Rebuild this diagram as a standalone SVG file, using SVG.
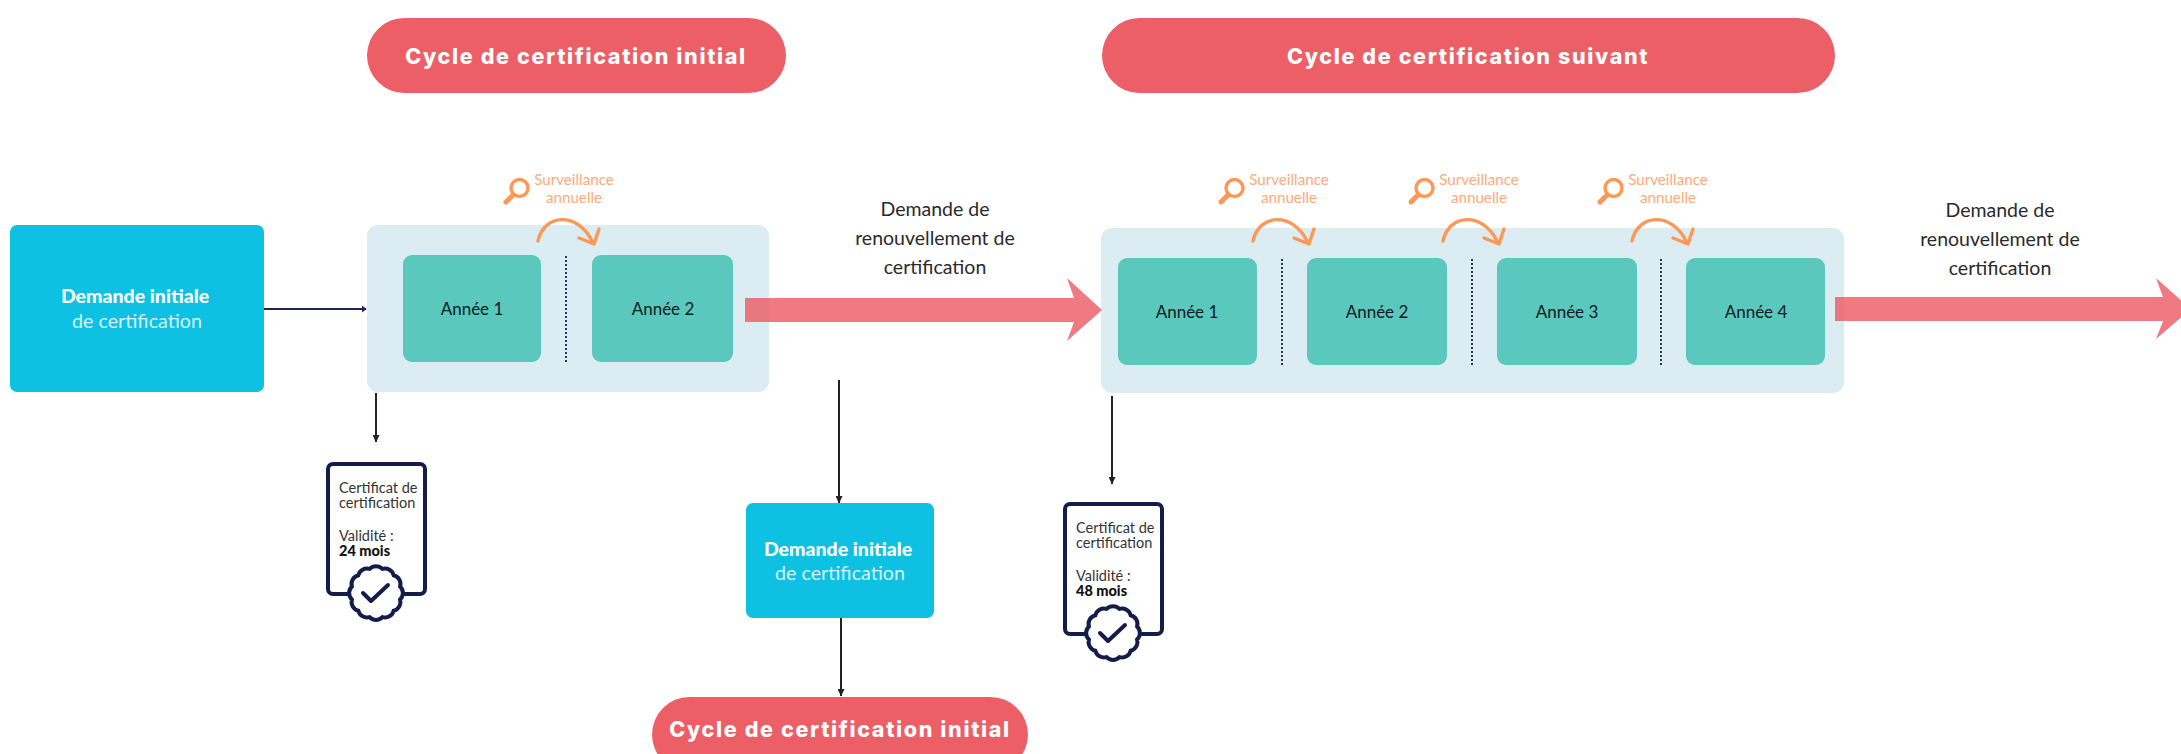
<svg xmlns="http://www.w3.org/2000/svg" xmlns:xlink="http://www.w3.org/1999/xlink" width="2181" height="754" viewBox="0 0 2181 754">
<style>
text{font-family:"Lato","Noto Sans",sans-serif;text-anchor:middle}
.pill{fill:#EC5F67}
.pilltx{font-family:"Inter","Liberation Sans",sans-serif;font-weight:800;font-size:21.5px;letter-spacing:1.65px;fill:#fff}
.blue{fill:#0EC1E2}
.bb{font-weight:900;font-size:19.5px;fill:#fff}
.br{font-size:19.7px;fill:#D5F3F9}
.cont{fill:#DBECF2}
.yr{fill:#5BC8BE}
.yrt{font-size:17px;fill:#0d1a22}
.sv{font-size:15.2px;fill:#FFAA78}
.dem{font-size:19.5px;fill:#2a2a2a}
.dot{stroke:#2b3560;stroke-width:2;stroke-dasharray:2 2;fill:none}
.arc{stroke:#FF9755;stroke-width:3.4;fill:none;stroke-linecap:round;stroke-linejoin:round}
.hd{stroke:#FF9755;stroke-width:5;fill:none;stroke-linecap:round}
.nv{stroke:#1F2452;stroke-width:2.2;fill:none}
.bk{stroke:#222;stroke-width:2;fill:none}
.big{fill:#EC5F67;opacity:.83}
.ct{font-size:14.5px;fill:#333;text-anchor:start}
.cb{font-size:14.5px;font-weight:900;fill:#111;text-anchor:start}
.fr{fill:#fff;stroke:#141C4A;stroke-width:4}
.ck{fill:none;stroke:#141C4A;stroke-width:4;stroke-linecap:round;stroke-linejoin:round}
</style>
<defs>
<marker id="an" markerWidth="6" markerHeight="8" refX="5" refY="4" orient="auto" markerUnits="userSpaceOnUse"><path d="M1,0.5L5.5,4L1,7.500z" fill="#1F2452"/></marker>
<marker id="ab" markerWidth="8" markerHeight="7" refX="7" refY="3.500" orient="auto" markerUnits="userSpaceOnUse"><path d="M0,0L7.500,3.500L0,7z" fill="#222"/></marker>
<g id="surv">
<circle cx="519.500" cy="188" r="8.500" class="arc"/>
<path d="M513,195L506,202" class="hd"/>
<path d="M538,241C544,213 578,212 592,241" class="arc"/>
<path d="M579,238L594,244L599,229" class="arc"/>
</g>
<g id="frame">
<rect x="328" y="464" width="97" height="130" rx="5" class="fr"/>
<path class="fr" d="M400.100,599.500A9,9 0 0 1 393.700,610.700A9,9 0 0 1 382.500,617.100A9,9 0 0 1 369.500,617.100A9,9 0 0 1 358.300,610.700A9,9 0 0 1 351.900,599.500A9,9 0 0 1 351.900,586.500A9,9 0 0 1 358.300,575.300A9,9 0 0 1 369.500,568.900A9,9 0 0 1 382.500,568.900A9,9 0 0 1 393.700,575.300A9,9 0 0 1 400.100,586.500A9,9 0 0 1 400.100,599.500Z"/>
<path class="ck" d="M363,593L371,601L388,585"/>
</g>
</defs>
<g id="connectors">
<path class="nv" d="M264,309H366" marker-end="url(#an)"/>
<path class="bk" d="M376,393V442" marker-end="url(#ab)"/>
<path class="bk" d="M1112,396V484" marker-end="url(#ab)"/>
<path class="bk" d="M839,380V503" marker-end="url(#ab)"/>
<path class="bk" d="M841,618V696" marker-end="url(#ab)"/>
</g>
<g id="pill-initial"><rect class="pill" x="367" y="18" width="419" height="75" rx="37.500"/><text class="pilltx" x="576" y="64">Cycle de certification initial</text></g>
<g id="pill-suivant"><rect class="pill" x="1102" y="18" width="733" height="75" rx="37.500"/><text class="pilltx" x="1468" y="64">Cycle de certification suivant</text></g>
<g id="pill-bottom"><rect class="pill" x="652" y="697" width="376" height="75" rx="37.500"/><text class="pilltx" x="840" y="737">Cycle de certification initial</text></g>
<g id="demande-1"><rect class="blue" x="10" y="225" width="254" height="167" rx="7"/><text class="bb" x="135" y="303">Demande initiale</text><text class="br" x="137" y="328">de certification</text></g>
<g id="demande-2"><rect class="blue" x="746" y="503" width="188" height="115" rx="7"/><text class="bb" x="838" y="556">Demande initiale</text><text class="br" x="840" y="580">de certification</text></g>
<g id="cycle-1">
<rect class="cont" x="367" y="225" width="402" height="167" rx="11"/>
<rect class="yr" x="403" y="255" width="138" height="107" rx="9"/><text class="yrt" x="472" y="315">Année 1</text>
<rect class="yr" x="592" y="255" width="141" height="107" rx="9"/><text class="yrt" x="663" y="315">Année 2</text>
<path class="dot" d="M566,256V362"/>
</g>
<g id="cycle-2">
<rect class="cont" x="1101" y="228" width="743" height="165" rx="11"/>
<rect class="yr" x="1118" y="258" width="139" height="107" rx="9"/><text class="yrt" x="1187" y="318">Année 1</text>
<rect class="yr" x="1307" y="258" width="140" height="107" rx="9"/><text class="yrt" x="1377" y="318">Année 2</text>
<rect class="yr" x="1497" y="258" width="140" height="107" rx="9"/><text class="yrt" x="1567" y="318">Année 3</text>
<rect class="yr" x="1686" y="258" width="139" height="107" rx="9"/><text class="yrt" x="1756" y="318">Année 4</text>
<path class="dot" d="M1282,259V365"/><path class="dot" d="M1472,259V365"/><path class="dot" d="M1661,259V365"/>
</g>
<g id="surveillance-1"><use xlink:href="#surv" href="#surv"/><text class="sv" x="574" y="185">Surveillance</text><text class="sv" x="574" y="203">annuelle</text></g>
<g id="surveillance-2"><use xlink:href="#surv" href="#surv" x="715"/><text class="sv" x="1289" y="185">Surveillance</text><text class="sv" x="1289" y="203">annuelle</text></g>
<g id="surveillance-3"><use xlink:href="#surv" href="#surv" x="905"/><text class="sv" x="1479" y="185">Surveillance</text><text class="sv" x="1479" y="203">annuelle</text></g>
<g id="surveillance-4"><use xlink:href="#surv" href="#surv" x="1094"/><text class="sv" x="1668" y="185">Surveillance</text><text class="sv" x="1668" y="203">annuelle</text></g>
<g id="renew-1">
<path class="big" d="M745,298H1074L1067,278L1102,310L1067,341L1074,322H745Z"/>
<text class="dem" x="935" y="216">Demande de</text><text class="dem" x="935" y="245">renouvellement de</text><text class="dem" x="935" y="274">certification</text>
</g>
<g id="renew-2">
<path class="big" d="M1835,297H2163L2156,278L2191,309L2156,339L2163,321H1835Z"/>
<text class="dem" x="2000" y="217">Demande de</text><text class="dem" x="2000" y="246">renouvellement de</text><text class="dem" x="2000" y="275">certification</text>
</g>
<g id="cert-1"><use xlink:href="#frame" href="#frame"/><text class="ct" x="339" y="493">Certificat de</text><text class="ct" x="339" y="508">certification</text><text class="ct" x="339" y="541">Validité :</text><text class="cb" x="339" y="556">24 mois</text></g>
<g id="cert-2"><use xlink:href="#frame" href="#frame" x="737" y="40"/><text class="ct" x="1076" y="533">Certificat de</text><text class="ct" x="1076" y="548">certification</text><text class="ct" x="1076" y="581">Validité :</text><text class="cb" x="1076" y="596">48 mois</text></g>
</svg>
